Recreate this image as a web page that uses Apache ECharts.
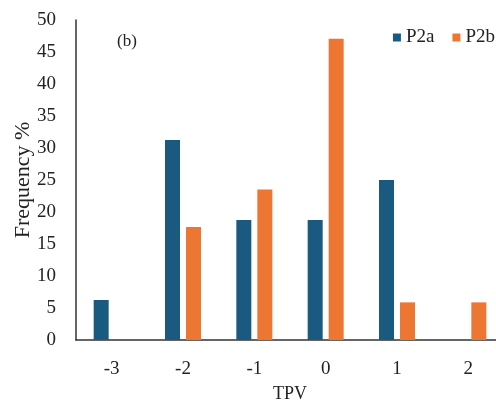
<!DOCTYPE html>
<html><head><meta charset="utf-8">
<script src="https://cdn.jsdelivr.net/npm/echarts@6/dist/echarts.min.js"></script>
<style>html,body{margin:0;padding:0;background:#fff}#c{width:496px;height:402px}</style>
</head><body><div id="c"></div>
<script>
var categories = ['-3', '-2', '-1', '0', '1', '2'];
var p2a = [6.25, 31.25, 18.75, 18.75, 25, 0];
var p2b = [0, 17.65, 23.53, 47.06, 5.88, 5.88];
var yTicks = {min: 0, max: 50, interval: 5};
var F = 'Liberation Serif';
var chart = echarts.init(document.getElementById('c'));
chart.setOption({
  backgroundColor: '#fff',
  animation: false,
  title: {text: '(b)', left: 112, top: 28, textStyle: {fontFamily: F, fontSize: 17, fontWeight: 'normal', color: '#222'}},
  legend: {
    data: ['P2a', 'P2b'], right: -4, top: 23, itemWidth: 8, itemHeight: 8, itemGap: 18,
    icon: 'rect', textStyle: {fontFamily: F, fontSize: 19, color: '#222'}
  },
  grid: {left: 76, width: 428, top: 20, height: 320, outerBoundsMode: 'none', containLabel: false},
  xAxis: {
    type: 'category', data: categories, name: 'TPV', nameLocation: 'middle', nameGap: 45,
    nameMoveOverlap: false,
    nameTextStyle: {fontFamily: F, fontSize: 18, color: '#222'},
    axisLine: {lineStyle: {color: '#333', width: 1.5}}, axisTick: {show: false},
    axisLabel: {fontFamily: F, fontSize: 19, color: '#222', margin: 20}
  },
  yAxis: {
    type: 'value', min: yTicks.min, max: yTicks.max, interval: yTicks.interval,
    name: 'Frequency %', nameLocation: 'middle', nameGap: 42, nameMoveOverlap: false,
    nameTextStyle: {fontFamily: F, fontSize: 22, color: '#222'},
    axisLine: {show: true, lineStyle: {color: '#333', width: 1.5}}, axisTick: {show: false},
    splitLine: {show: false},
    axisLabel: {fontFamily: F, fontSize: 19, color: '#222', margin: 20}
  },
  series: [
    {name: 'P2a', type: 'bar', data: p2a, barWidth: 15, barGap: '40%', itemStyle: {color: '#1B5A80'}},
    {name: 'P2b', type: 'bar', data: p2b, barWidth: 15, itemStyle: {color: '#EE7633'}}
  ]
});
</script></body></html>
